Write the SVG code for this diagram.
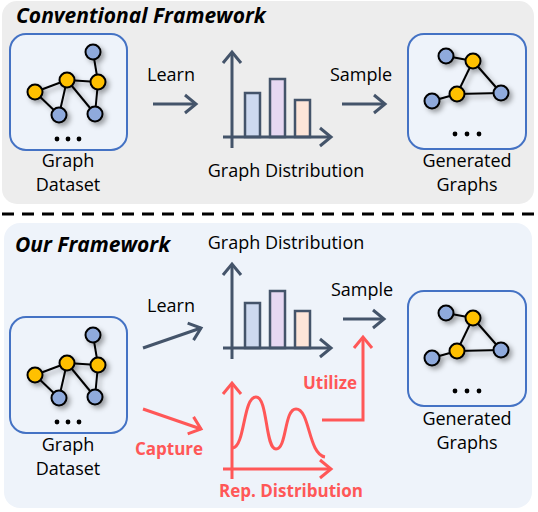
<svg xmlns="http://www.w3.org/2000/svg" width="538" height="512" viewBox="0 0 538 512">
<style>
.lbl{font-family:"Open Sans","DejaVu Sans",sans-serif;font-size:18px;fill:#000;text-anchor:middle}
.red{font-family:"Open Sans","DejaVu Sans",sans-serif;font-size:17px;font-weight:bold;fill:#ff5757;text-anchor:middle}
.title{font-family:"Open Sans","DejaVu Sans",sans-serif;font-size:21px;font-weight:bold;font-style:italic;fill:#000}
.box{fill:#eef3fa;stroke:#4472c4;stroke-width:2}
.edge{stroke:#000;stroke-width:2}
.nb{fill:#8faadc;stroke:#000;stroke-width:2}
.ny{fill:#ffc000;stroke:#000;stroke-width:2}
.dark{stroke:#44546a;stroke-width:3;fill:none}
.redl{stroke:#ff5757;stroke-width:3;fill:none}
.bar{stroke:#44546a;stroke-width:2.5}
</style>
<defs>
<marker id="ad" markerUnits="userSpaceOnUse" markerWidth="30" markerHeight="30" refX="0" refY="0" orient="auto" overflow="visible">
<path d="M-11,-9 L0,0 L-11,9" fill="none" stroke="#44546a" stroke-width="3"/>
</marker>
<marker id="ar" markerUnits="userSpaceOnUse" markerWidth="30" markerHeight="30" refX="0" refY="0" orient="auto" overflow="visible">
<path d="M-11,-9 L0,0 L-11,9" fill="none" stroke="#ff5757" stroke-width="3"/>
</marker>
<filter id="sh" x="-20%" y="-20%" width="150%" height="150%">
<feDropShadow dx="3" dy="3" stdDeviation="2.5" flood-color="#000" flood-opacity="0.35"/>
</filter>
<g id="g1">
<rect class="box" x="10" y="34" width="117" height="116" rx="16"/>
<g filter="url(#sh)">
<line class="edge" x1="93" y1="52" x2="98" y2="82"/>
<line class="edge" x1="67" y1="80" x2="98" y2="82"/>
<line class="edge" x1="67" y1="80" x2="35" y2="92"/>
<line class="edge" x1="67" y1="80" x2="59" y2="115"/>
<line class="edge" x1="67" y1="80" x2="95" y2="114"/>
<line class="edge" x1="35" y1="92" x2="59" y2="115"/>
<line class="edge" x1="98" y1="82" x2="95" y2="114"/>
<circle class="nb" cx="93" cy="52" r="7.5"/>
<circle class="ny" cx="67" cy="80" r="7.5"/>
<circle class="ny" cx="98" cy="82" r="7.5"/>
<circle class="ny" cx="35" cy="92" r="7.5"/>
<circle class="nb" cx="59" cy="115" r="7.5"/>
<circle class="nb" cx="95" cy="114" r="7.5"/>
</g>
<circle cx="57" cy="139" r="2.4"/><circle cx="68" cy="139" r="2.4"/><circle cx="79" cy="139" r="2.4"/>
</g>
<g id="g2">
<rect class="box" x="408" y="34" width="118" height="115" rx="16"/>
<g filter="url(#sh)">
<line class="edge" x1="446" y1="56" x2="473" y2="61"/>
<line class="edge" x1="473" y1="61" x2="457" y2="94"/>
<line class="edge" x1="473" y1="61" x2="501" y2="93"/>
<line class="edge" x1="457" y1="94" x2="501" y2="93"/>
<line class="edge" x1="457" y1="94" x2="432" y2="101"/>
<circle class="nb" cx="446" cy="56" r="7.5"/>
<circle class="ny" cx="473" cy="61" r="7.5"/>
<circle class="ny" cx="457" cy="94" r="7.5"/>
<circle class="nb" cx="501" cy="93" r="7.5"/>
<circle class="nb" cx="432" cy="101" r="7.5"/>
</g>
<circle cx="455" cy="134" r="2.4"/><circle cx="467" cy="134" r="2.4"/><circle cx="479" cy="134" r="2.4"/>
</g>
</defs>

<rect x="2" y="1" width="532" height="203" rx="15" fill="#ededed"/>
<line x1="2" y1="214" x2="538" y2="214" stroke="#000" stroke-width="3" stroke-dasharray="12 8"/>
<rect x="4" y="223" width="528" height="285" rx="16" fill="#eef3fa"/>

<text class="title" x="16" y="23">Conventional Framework</text>
<text class="title" x="15" y="252">Our Framework</text>

<g id="top-dataset">
<use href="#g1"/>
<text class="lbl" x="68" y="167">Graph</text>
<text class="lbl" x="68" y="191">Dataset</text>
</g>
<g id="top-distribution">
<rect class="bar" x="245" y="93" width="15" height="44" fill="#cdd9ef"/>
<rect class="bar" x="270" y="79" width="15" height="58" fill="#e6d8f2"/>
<rect class="bar" x="295" y="100" width="15" height="37" fill="#fde5d8"/>
<line class="dark" x1="232" y1="148" x2="232" y2="52" marker-end="url(#ad)"/>
<line class="dark" x1="223" y1="137" x2="331" y2="137" marker-end="url(#ad)"/>
<text class="lbl" x="286" y="177">Graph Distribution</text>
</g>
<g id="top-generated">
<use href="#g2"/>
<text class="lbl" x="467" y="167">Generated</text>
<text class="lbl" x="467" y="191">Graphs</text>
</g>

<g id="bottom-dataset">
<use href="#g1" y="283"/>
<text class="lbl" x="68" y="451">Graph</text>
<text class="lbl" x="68" y="475">Dataset</text>
</g>
<g id="bottom-distribution">
<rect class="bar" x="245" y="303" width="15" height="45" fill="#cdd9ef"/>
<rect class="bar" x="270" y="291" width="15" height="57" fill="#e6d8f2"/>
<rect class="bar" x="295" y="311" width="15" height="37" fill="#fde5d8"/>
<line class="dark" x1="232" y1="359" x2="232" y2="264" marker-end="url(#ad)"/>
<line class="dark" x1="223" y1="348" x2="331" y2="348" marker-end="url(#ad)"/>
<text class="lbl" x="286" y="249">Graph Distribution</text>
</g>
<g id="rep-distribution">
<path class="redl" stroke-width="2.5" d="M233,448 C245,446 243,397 256,397 C268,397 265,449 276,449 C287,449 284,409 296,409 C310,409 308,454 325,457"/>
<line class="redl" x1="232" y1="479" x2="232" y2="383" marker-end="url(#ar)"/>
<line class="redl" x1="223" y1="469" x2="331" y2="469" marker-end="url(#ar)"/>
<text class="red" x="291" y="497">Rep. Distribution</text>
</g>
<g id="bottom-generated">
<use href="#g2" y="257"/>
<text class="lbl" x="467" y="425">Generated</text>
<text class="lbl" x="467" y="449">Graphs</text>
</g>

<g id="connectors">
<line class="dark" x1="153" y1="104" x2="196" y2="104" marker-end="url(#ad)"/>
<text class="lbl" x="171" y="81">Learn</text>
<line class="dark" x1="342" y1="104" x2="385" y2="104" marker-end="url(#ad)"/>
<text class="lbl" x="361" y="81">Sample</text>
<line class="dark" x1="143" y1="348" x2="201" y2="328" marker-end="url(#ad)"/>
<text class="lbl" x="171" y="312">Learn</text>
<line class="dark" x1="343" y1="319" x2="384" y2="319" marker-end="url(#ad)"/>
<text class="lbl" x="362" y="296">Sample</text>
<line class="redl" x1="143" y1="409" x2="201" y2="429" marker-end="url(#ar)"/>
<text class="red" x="169" y="455">Capture</text>
<polyline class="redl" points="322,420 363,420 363,337" marker-end="url(#ar)"/>
<text class="red" x="330" y="389">Utilize</text>
</g>
</svg>
